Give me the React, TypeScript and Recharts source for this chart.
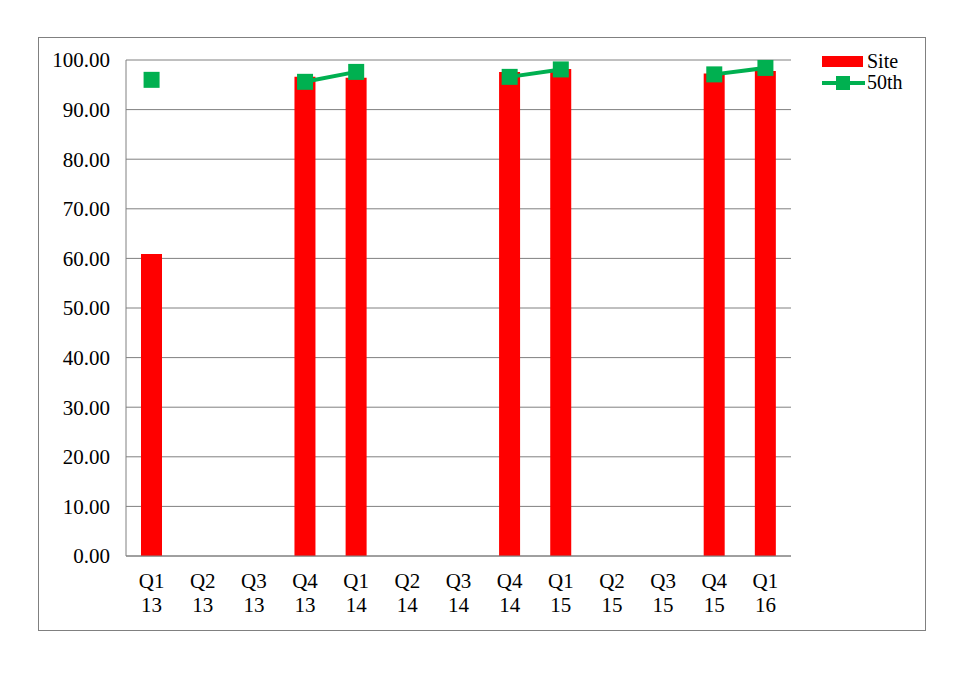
import React from 'react';
import { ComposedChart, Bar, Line, XAxis, YAxis, CartesianGrid } from 'recharts';

const quarters = ['Q1', 'Q2', 'Q3', 'Q4', 'Q1', 'Q2', 'Q3', 'Q4', 'Q1', 'Q2', 'Q3', 'Q4', 'Q1'];
const years = ['13', '13', '13', '13', '14', '14', '14', '14', '15', '15', '15', '15', '16'];
const siteValues: (number | null)[] = [60.9, null, null, 96.6, 96.4, null, null, 97.6, 98.2, null, null, 97.3, 97.8];
const fiftiethValues: (number | null)[] = [96.0, null, null, 95.6, 97.6, null, null, 96.6, 98.1, null, null, 97.1, 98.4];
const yTicks = [0, 10, 20, 30, 40, 50, 60, 70, 80, 90, 100];

const data = quarters.map((q, i) => ({
    label: q + ' ' + years[i],
    quarter: q,
    year: years[i],
    site: siteValues[i],
    fiftieth: fiftiethValues[i],
}));

const FONT = '"Liberation Serif", "Times New Roman", serif';
const GREEN = '#00B050';

const XTick = (props: any) => {
    const { x, y, payload } = props;
    const idx = payload.index;
    return (
        <text x={x} y={y} textAnchor="middle" fontFamily={FONT} fontSize={21} fill="#000">
            <tspan x={x} dy={24}>{quarters[idx]}</tspan>
            <tspan x={x} dy={24}>{years[idx]}</tspan>
        </text>
    );
};

const SquareDot = (props: any) => {
    const { cx, cy, value } = props;
    if (value == null || cx == null || cy == null) return <g />;
    return <rect x={cx - 8} y={cy - 8} width={16} height={16} fill={GREEN} />;
};

const App: React.FC = () => {
    return (
        <div style={{ position: 'absolute', left: 0, top: 0, width: 975, height: 675, background: '#fff' }}>
            <div style={{ position: 'absolute', left: 38, top: 37, width: 886, height: 592, border: '1.5px solid #808080' }} />
            <ComposedChart
                width={975}
                height={675}
                data={data}
                margin={{ top: 60, right: 184, left: 0, bottom: 0 }}
                barCategoryGap={0}
            >
                <CartesianGrid vertical={false} stroke="#808080" strokeWidth={1} />
                <XAxis
                    dataKey="label"
                    interval={0}
                    tickLine={false}
                    axisLine={{ stroke: '#808080' }}
                    tick={<XTick />}
                    height={119}
                />
                <YAxis
                    width={126}
                    domain={[0, 100]}
                    ticks={yTicks}
                    tickFormatter={(v: number) => v.toFixed(2)}
                    tickLine={false}
                    axisLine={{ stroke: '#808080' }}
                    tickMargin={10}
                    tick={{ fontFamily: FONT, fontSize: 21, fill: '#000' }}
                    interval={0}
                />
                <Bar dataKey="site" fill="#FF0000" barSize={21} isAnimationActive={false} />
                <Line
                    dataKey="fiftieth"
                    type="linear"
                    stroke={GREEN}
                    strokeWidth={4}
                    dot={<SquareDot />}
                    activeDot={false}
                    connectNulls={false}
                    isAnimationActive={false}
                />
            </ComposedChart>
            <div style={{ position: 'absolute', left: 822, top: 51, fontFamily: FONT, fontSize: 20, color: '#000', lineHeight: '21px' }}>
                <div style={{ display: 'flex', alignItems: 'center', height: 21 }}>
                    <span style={{ display: 'inline-block', width: 41, height: 11, background: '#FF0000', marginRight: 4 }} />
                    <span>Site</span>
                </div>
                <div style={{ display: 'flex', alignItems: 'center', height: 21 }}>
                    <svg width={45} height={16}>
                        <line x1={0} y1={8} x2={43} y2={8} stroke={GREEN} strokeWidth={4} />
                        <rect x={14} y={1} width={14} height={14} fill={GREEN} />
                    </svg>
                    <span>50th</span>
                </div>
            </div>
        </div>
    );
};

export default App;
